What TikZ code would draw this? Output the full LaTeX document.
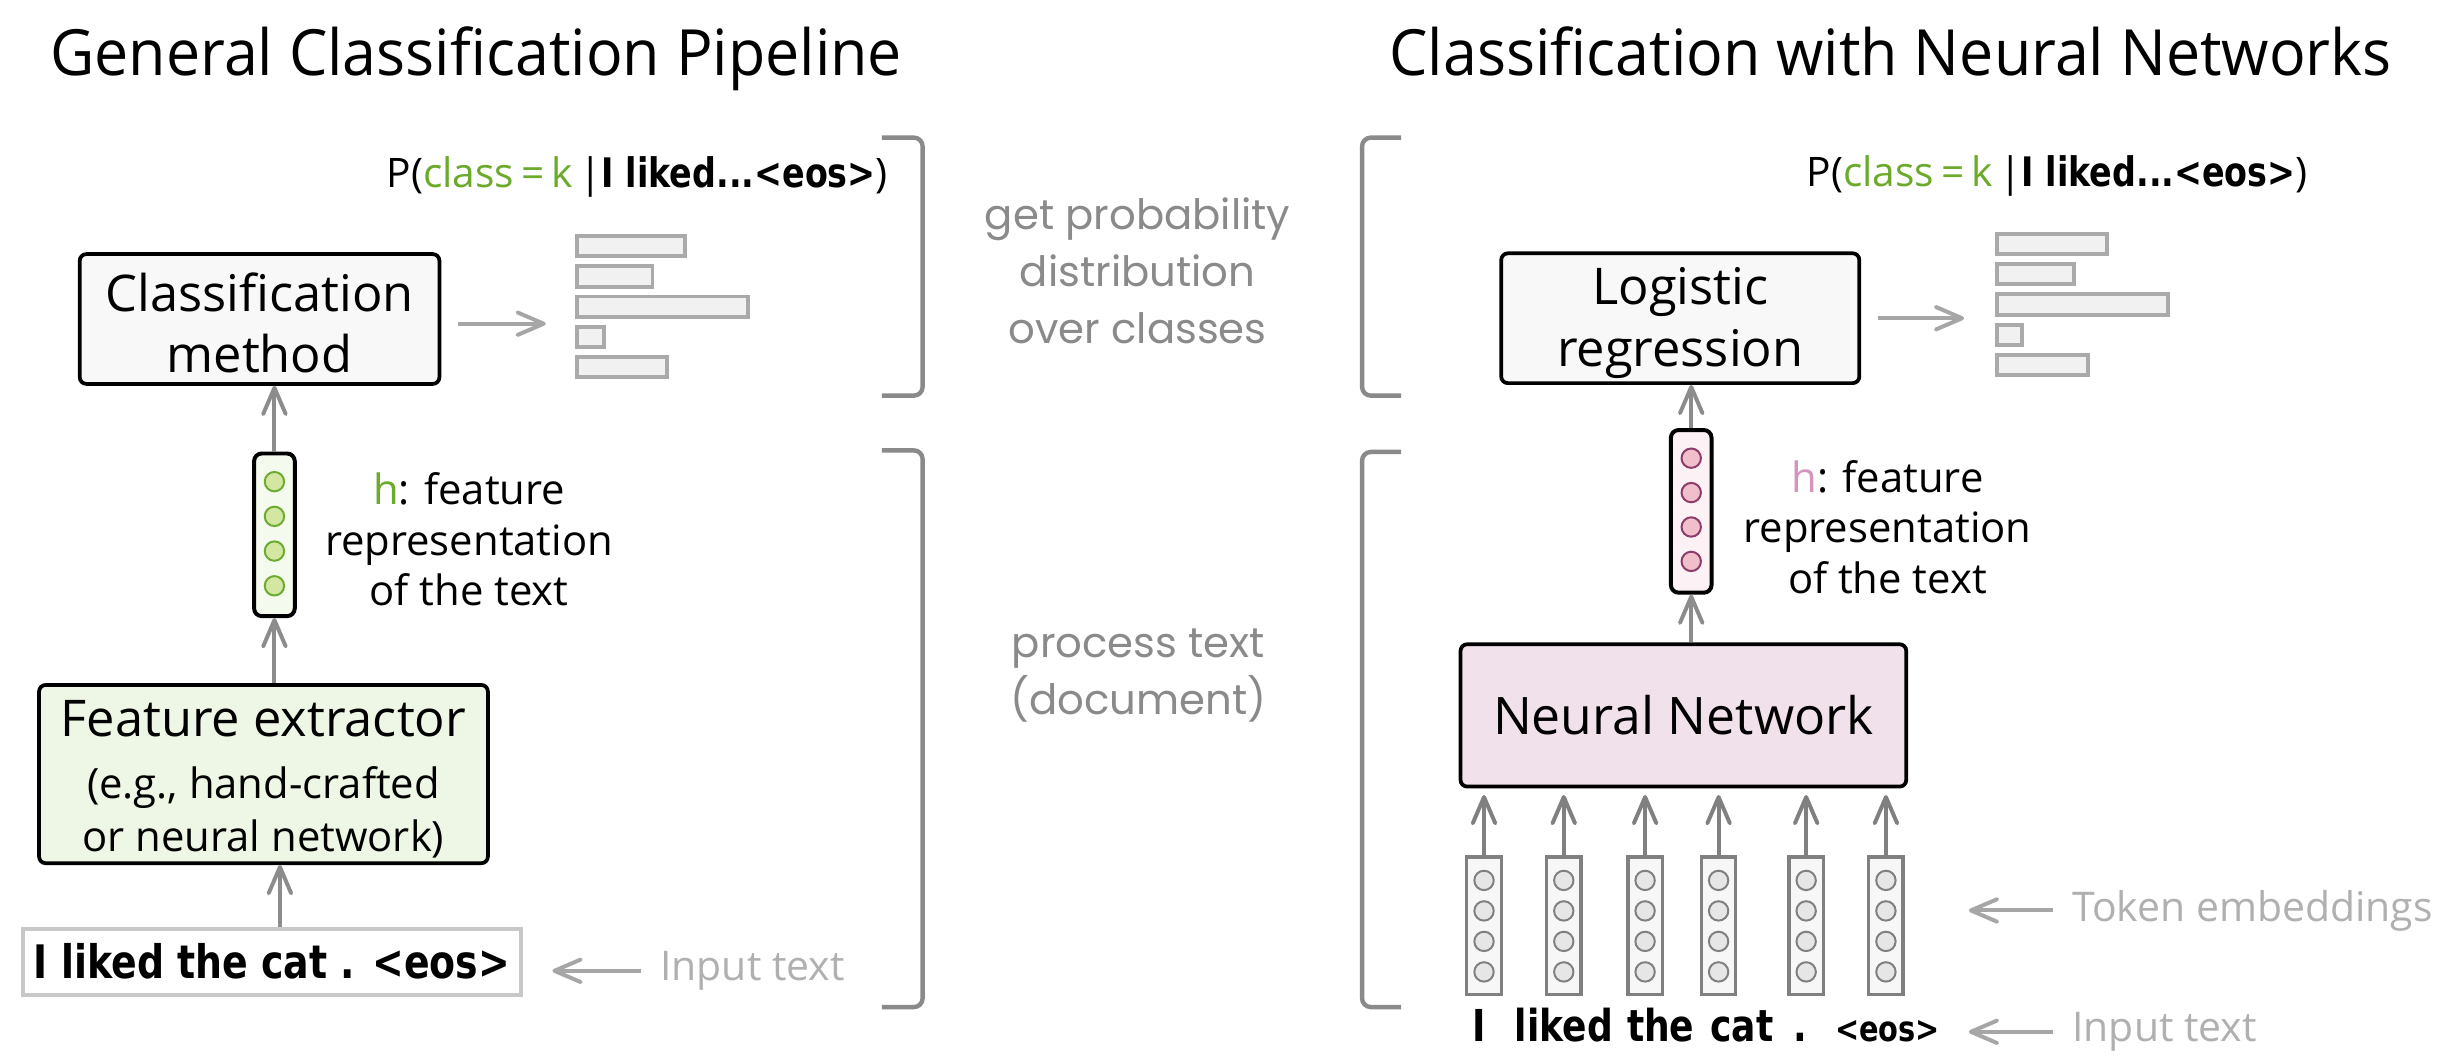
\documentclass[tikz,border=0pt]{standalone}
\usepackage{fontspec}
\setmainfont{Open Sans}
\newfontfamily\titlefont[FakeStretch=0.955]{Open Sans}
\newfontfamily\grayfont{Poppins}
\newfontfamily\handfont[FakeStretch=0.82]{DejaVu Sans}
\usetikzlibrary{arrows.meta}

\newlength\px
\setlength\px{0.025cm}
\newcommand\fs[2]{\fontsize{#1}{#2}\selectfont}

\definecolor{hgreen}{HTML}{6BAA2B}
\definecolor{fefill}{HTML}{EEF6E5}
\definecolor{hvecgreen}{HTML}{F5FAEE}
\definecolor{dotgreen}{HTML}{D3E7A2}
\definecolor{dotgreenline}{HTML}{6DAA30}
\definecolor{hpink}{HTML}{D394C0}
\definecolor{nnfill}{HTML}{F1E1EB}
\definecolor{hvecpink}{HTML}{FCF1F4}
\definecolor{dotpink}{HTML}{F0BFCB}
\definecolor{dotpinkline}{HTML}{8C3B6B}
\definecolor{boxfill}{HTML}{F8F8F8}
\definecolor{inboxline}{HTML}{C8C8C8}
\definecolor{embline}{HTML}{808080}
\definecolor{embfill}{HTML}{F7F7F7}
\definecolor{embdot}{HTML}{E6E6E6}
\definecolor{barline}{HTML}{AAAAAA}
\definecolor{barfill}{HTML}{F1F1F1}
\definecolor{arrowgray}{HTML}{8C8C8C}
\definecolor{sidegray}{HTML}{A6A6A6}
\definecolor{labelgray}{HTML}{B0B0B0}
\definecolor{midgray}{HTML}{8A8A8A}

\tikzset{
  arr/.style={draw=arrowgray, line width=1.8pt, -{Straight Barb[round,length=4.2mm,width=3.6mm]}},
  sidearr/.style={arr, draw=sidegray},
  block/.style={draw=black, line width=1.7pt, rounded corners=3pt, align=center, inner sep=0pt},
  bar/.style={draw=barline, fill=barfill, line width=1.8pt, minimum height=13\px, inner sep=0pt, anchor=west},
  hvec/.style={draw=black, line width=1.8pt, rounded corners=3.5pt, minimum width=26\px, minimum height=104\px, inner sep=0pt},
  dot/.style={circle, minimum size=12.4\px, inner sep=0pt, line width=0.9pt},
  emb/.style={draw=embline, fill=embfill, line width=1.5pt, minimum width=22\px, minimum height=88\px, inner sep=0pt},
  bracket/.style={draw=midgray, line width=2pt, rounded corners=4pt},
  sidelabel/.style={text=labelgray, font=\fs{18.6}{22}, anchor=base west, inner sep=0pt},
  midlabel/.style={text=midgray, font=\grayfont\fs{19}{26}, align=center, inner sep=0pt},
  hlabel/.style={font=\fs{19}{23}, align=center, inner sep=0pt},
  prob/.style={font=\fs{18.5}{22}, anchor=base east, inner sep=0pt},
  word/.style={font=\handfont\bfseries\fs{20}{24}, anchor=base, inner sep=0pt},
}

\begin{document}
\begin{tikzpicture}[x=0.025cm, y=-0.025cm]
  \fill[white] (0,0) rectangle (1568,678);
  \useasboundingbox (0,0) rectangle (1568,678);

  % Titles
  \node[font=\titlefont\fs{29}{34}, anchor=base] (ltitle) at (304.5,48) {General Classification Pipeline};
  \node[font=\titlefont\fs{29}{34}, anchor=base] (rtitle) at (1209,48) {Classification with Neural Networks};

  % Left pipeline
  \node[block, fill=boxfill, minimum width=230\px, minimum height=83\px, font=\fs{23}{28}] (cm) at (166,204)
    {\rule{0pt}{21pt}Classification\\method};
  \node[hvec, fill=hvecgreen] (hl) at (175.5,342) {};
  \foreach \k in {0,...,3}
    \node[dot, draw=dotgreenline, fill=dotgreen] (hl\k) at (175.5,{308+22.2*\k}) {};
  \node[block, fill=fefill, minimum width=287\px, minimum height=114\px, font=\fs{23}{28}] (fe) at (168.5,495)
    {\rule{0pt}{21pt}Feature extractor\\\fs{19}{23}(e.g., hand-crafted\\[-4pt]\fs{19}{23}or neural network)};
  \node[draw=inboxline, line width=1.8pt, minimum width=318\px, minimum height=42\px, inner sep=0pt,
    font=\handfont\bfseries\fs{21}{26}] (inbox) at (174,615) {I liked the cat . <eos>};

  \node[hlabel] (hltext) at (300,345) {\textcolor{hgreen}{h}: feature\\representation\\of the text};
  \node[prob] (lprob) at (568,120)
    {P(\textcolor{hgreen}{class\,=\,k}\,|{\handfont\bfseries I liked...<eos>})};

  % Left bars
  \foreach \w [count=\i] in {69,48,109,17,57}
    \node[bar, minimum width=\w\px] (lbar\i) at (368,{138.2+19.3*\i}) {};

  % Left arrows
  \draw[arr] ([xshift=5\px]inbox.north) -- ([xshift=5\px]inbox.north |- fe.south);
  \draw[arr] (fe.north -| hl.south) -- (hl.south);
  \draw[arr] (hl.north) -- (hl.north |- cm.south);
  \draw[sidearr] ([xshift=11\px,yshift=-3\px]cm.east) -- ([xshift=-19\px,yshift=-3\px]cm.east -| lbar3.west);

  \node[sidelabel] (linput) at (422,627) {Input text};
  \draw[sidearr] ([xshift=-12\px]linput.west) -- ([xshift=19\px]inbox.east |- linput.west);

  % Brackets
  \draw[bracket] (564,88) -- (590,88) -- (590,253) -- (564,253);
  \draw[bracket] (564,288) -- (590,288) -- (590,644) -- (564,644);
  \draw[bracket] (896,88) -- (871,88) -- (871,253) -- (896,253);
  \draw[bracket] (896,289) -- (871,289) -- (871,644) -- (896,644);

  % Middle labels
  \node[midlabel] (mtop) at (727.5,173) {get probability\\distribution\\over classes};
  \node[midlabel] (mbot) at (728,432) {process text\\(document)};

  % Right pipeline
  \node[block, fill=boxfill, minimum width=229\px, minimum height=83\px, font=\fs{23}{28}] (lr) at (1074.5,203.5)
    {\rule{0pt}{21pt}Logistic\\regression};
  \node[hvec, fill=hvecpink] (hr) at (1081.5,327) {};
  \foreach \k in {0,...,3}
    \node[dot, draw=dotpinkline, fill=dotpink] (hr\k) at (1081.5,{293+22*\k}) {};
  \node[block, fill=nnfill, minimum width=285\px, minimum height=91\px, font=\fs{23.5}{28}] (nn) at (1076.5,457.5) {Neural Network};

  \node[hlabel] (hrtext) at (1207,337) {\textcolor{hpink}{h}: feature\\representation\\of the text};
  \node[prob] (rprob) at (1476,119)
    {P(\textcolor{hgreen}{class\,=\,k}\,|{\handfont\bfseries I liked...<eos>})};

  % Right bars
  \foreach \w [count=\i] in {70,49,109,16,58}
    \node[bar, minimum width=\w\px] (rbar\i) at (1276,{136.5+19.4*\i}) {};

  % Token embeddings
  \foreach \x [count=\i] in {949,1000,1052,1099,1155,1206} {
    \node[emb] (col\i) at (\x,592) {};
    \foreach \k in {0,...,3}
      \node[dot, draw=embline, fill=embdot] (col\i d\k) at (\x,{563+19.5*\k}) {};
    \draw[arr, draw=embline, shorten >=3pt] (col\i.north) -- (col\i.north |- nn.south);
  }

  % Input tokens
  \foreach \w/\x [count=\i] in {I/946, liked/1000, the/1062, cat/1114, ./1151}
    \node[word] (w\i) at (\x,666) {\w};
  \node[word, font=\handfont\bfseries\fs{16}{20}] (w6) at (1207,666) {<eos>};

  % Right arrows
  \draw[arr] (nn.north -| hr.south) -- (hr.south);
  \draw[arr] (hr.north) -- (hr.north |- lr.south);
  \draw[sidearr] ([xshift=11\px]lr.east) -- ([xshift=-20\px]lr.east -| rbar3.west);

  \node[sidelabel] (tokemb) at (1325,589) {Token embeddings};
  \node[sidelabel] (rinput) at (1325,666) {Input text};
  \draw[sidearr] ([xshift=-12\px]tokemb.west) -- ([xshift=41\px]tokemb.west -| col6.east);
  \draw[sidearr] ([xshift=-12\px]rinput.west) -- ([xshift=41\px]rinput.west -| col6.east);
\end{tikzpicture}
\end{document}
